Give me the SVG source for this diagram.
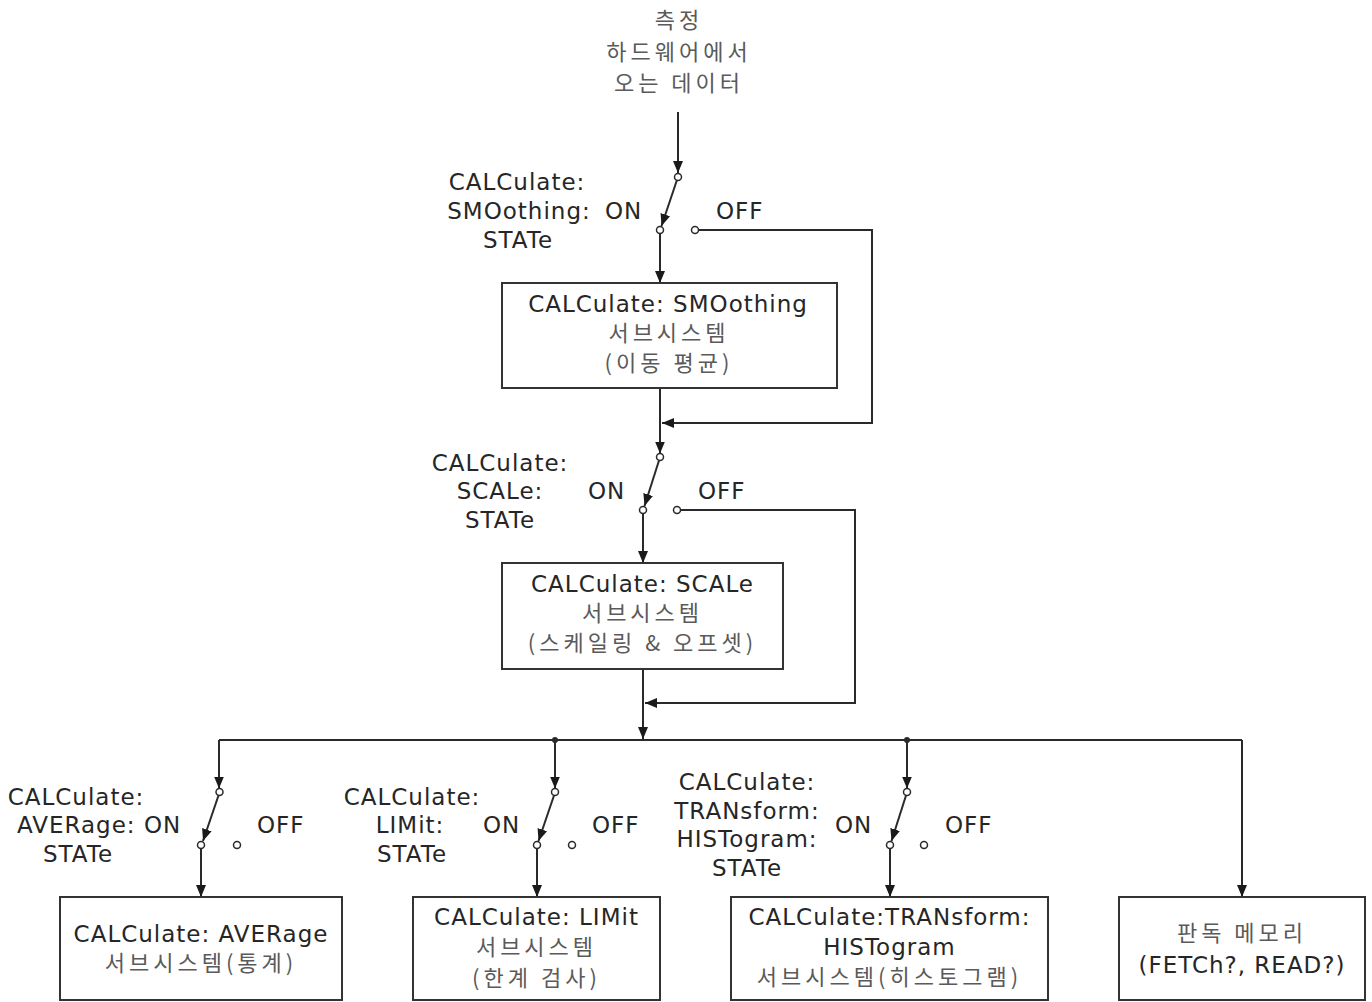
<svg xmlns="http://www.w3.org/2000/svg" width="1372" height="1002" viewBox="0 0 1372 1002">
  <style>
    .box { fill: #ffffff; stroke: #333333; stroke-width: 2; }
    .wire { fill: none; stroke: #2a2a2a; stroke-width: 2; }
    .term { fill: #ffffff; stroke: #2a2a2a; stroke-width: 1.5; }
    .dot { fill: #2a2a2a; }
    .lat { font-family: "DejaVu Sans", Verdana, sans-serif; font-size: 23px; fill: #262626; letter-spacing: 1px; }
    .kor { font-family: "Noto Sans CJK KR", "Noto Sans", sans-serif; font-size: 22px; fill: #5a5a5a; letter-spacing: 4px; }
    .mid { text-anchor: middle; }
  </style>
  <defs>
    <marker id="arrow" markerUnits="userSpaceOnUse" markerWidth="12" markerHeight="10" refX="12" refY="5" orient="auto">
      <path d="M0,0 L12,5 L0,10 z" fill="#1a1a1a"/>
    </marker>
  </defs>

  <rect width="1372" height="1002" fill="#ffffff"/>

  <!-- data source label -->
  <g id="source">
    <text class="kor mid" x="679" y="28">측정</text>
    <text class="kor mid" x="679" y="60">하드웨어에서</text>
    <text class="kor mid" x="679" y="91">오는 데이터</text>
  </g>

  <!-- connectors -->
  <g id="connectors">
    <path class="wire" d="M678,112 V173" marker-end="url(#arrow)"/>
    <!-- smoothing switch -->
    <path class="wire" d="M676.8,180.5 L661.5,226" marker-end="url(#arrow)"/>
    <path class="wire" d="M698.5,230 H872 V423 H662" marker-end="url(#arrow)"/>
    <path class="wire" d="M660,233.5 V283" marker-end="url(#arrow)"/>
    <path class="wire" d="M660,388 V453.5" marker-end="url(#arrow)"/>
    <!-- scale switch -->
    <path class="wire" d="M659,460.5 L644.5,506" marker-end="url(#arrow)"/>
    <path class="wire" d="M680.5,510 H855 V703 H645" marker-end="url(#arrow)"/>
    <path class="wire" d="M643,513.5 V563" marker-end="url(#arrow)"/>
    <path class="wire" d="M643,669 V739" marker-end="url(#arrow)"/>
    <!-- distribution bus -->
    <path class="wire" d="M219,740 H1242"/>
    <path class="wire" d="M219,740 V788.5" marker-end="url(#arrow)"/>
    <path class="wire" d="M555,740 V788.5" marker-end="url(#arrow)"/>
    <path class="wire" d="M907,740 V788.5" marker-end="url(#arrow)"/>
    <path class="wire" d="M1242,740 V897" marker-end="url(#arrow)"/>
    <circle class="dot" cx="555" cy="740" r="3"/>
    <circle class="dot" cx="907" cy="740" r="3"/>
    <!-- average / limit / histogram switches -->
    <path class="wire" d="M218.5,795.5 L203,841" marker-end="url(#arrow)"/>
    <path class="wire" d="M554,795.5 L538.5,841" marker-end="url(#arrow)"/>
    <path class="wire" d="M906,795.5 L891.5,841" marker-end="url(#arrow)"/>
    <path class="wire" d="M201,848.5 V897" marker-end="url(#arrow)"/>
    <path class="wire" d="M537,848.5 V897" marker-end="url(#arrow)"/>
    <path class="wire" d="M890,848.5 V897" marker-end="url(#arrow)"/>
    <!-- switch terminals -->
    <circle class="term" cx="678" cy="177" r="3.5"/>
    <circle class="term" cx="660" cy="230" r="3.5"/>
    <circle class="term" cx="695" cy="230" r="3.5"/>
    <circle class="term" cx="660" cy="457" r="3.5"/>
    <circle class="term" cx="643" cy="510" r="3.5"/>
    <circle class="term" cx="677" cy="510" r="3.5"/>
    <circle class="term" cx="219.5" cy="792" r="3.5"/>
    <circle class="term" cx="201" cy="845" r="3.5"/>
    <circle class="term" cx="237" cy="845" r="3.5"/>
    <circle class="term" cx="555" cy="792" r="3.5"/>
    <circle class="term" cx="537" cy="845" r="3.5"/>
    <circle class="term" cx="572" cy="845" r="3.5"/>
    <circle class="term" cx="907" cy="792" r="3.5"/>
    <circle class="term" cx="890" cy="845" r="3.5"/>
    <circle class="term" cx="924" cy="845" r="3.5"/>
  </g>

  <!-- switch labels -->
  <g id="sw-smoothing">
    <text class="lat mid" x="517" y="190">CALCulate:</text>
    <text class="lat mid" x="519" y="219">SMOothing:</text>
    <text class="lat" x="605" y="219">ON</text>
    <text class="lat mid" x="518" y="248">STATe</text>
    <text class="lat" x="716" y="219">OFF</text>
  </g>
  <g id="sw-scale">
    <text class="lat mid" x="500" y="471">CALCulate:</text>
    <text class="lat mid" x="500" y="499">SCALe:</text>
    <text class="lat" x="588" y="499">ON</text>
    <text class="lat mid" x="500" y="528">STATe</text>
    <text class="lat" x="698" y="499">OFF</text>
  </g>
  <g id="sw-average">
    <text class="lat mid" x="76" y="805">CALCulate:</text>
    <text class="lat" x="17" y="833">AVERage: ON</text>
    <text class="lat mid" x="78" y="862">STATe</text>
    <text class="lat" x="257" y="833">OFF</text>
  </g>
  <g id="sw-limit">
    <text class="lat mid" x="412" y="805">CALCulate:</text>
    <text class="lat mid" x="410" y="833">LIMit:</text>
    <text class="lat" x="483" y="833">ON</text>
    <text class="lat mid" x="412" y="862">STATe</text>
    <text class="lat" x="592" y="833">OFF</text>
  </g>
  <g id="sw-histogram">
    <text class="lat mid" x="747" y="790">CALCulate:</text>
    <text class="lat mid" x="747" y="819">TRANsform:</text>
    <text class="lat mid" x="747" y="847">HISTogram:</text>
    <text class="lat mid" x="747" y="876">STATe</text>
    <text class="lat" x="835" y="833">ON</text>
    <text class="lat" x="945" y="833">OFF</text>
  </g>

  <!-- subsystem boxes -->
  <g id="smoothing">
    <rect class="box" x="502" y="283" width="335" height="105"/>
    <text class="lat mid" x="668" y="312">CALCulate: SMOothing</text>
    <text class="kor mid" x="669" y="341">서브시스템</text>
    <text class="kor mid" x="669" y="371">(이동 평균)</text>
  </g>
  <g id="scale">
    <rect class="box" x="502" y="563" width="281" height="106"/>
    <text class="lat mid" x="642.5" y="592">CALCulate: SCALe</text>
    <text class="kor mid" x="642.5" y="621">서브시스템</text>
    <text class="kor mid" x="642.5" y="651">(스케일링 &amp; 오프셋)</text>
  </g>
  <g id="average">
    <rect class="box" x="60" y="897" width="282" height="103"/>
    <text class="lat mid" x="201" y="942">CALCulate: AVERage</text>
    <text class="kor mid" x="201" y="971">서브시스템(통계)</text>
  </g>
  <g id="limit">
    <rect class="box" x="413" y="897" width="247" height="103"/>
    <text class="lat mid" x="536.5" y="925">CALCulate: LIMit</text>
    <text class="kor mid" x="536.5" y="955">서브시스템</text>
    <text class="kor mid" x="536.5" y="986">(한계 검사)</text>
  </g>
  <g id="histogram">
    <rect class="box" x="731" y="897" width="317" height="103"/>
    <text class="lat mid" x="889.5" y="925">CALCulate:TRANsform:</text>
    <text class="lat mid" x="889.5" y="955">HISTogram</text>
    <text class="kor mid" x="889.5" y="985">서브시스템(히스토그램)</text>
  </g>
  <g id="readout">
    <rect class="box" x="1119" y="897" width="246" height="103"/>
    <text class="kor mid" x="1242" y="941">판독 메모리</text>
    <text class="lat mid" x="1242" y="973">(FETCh?, READ?)</text>
  </g>
</svg>
